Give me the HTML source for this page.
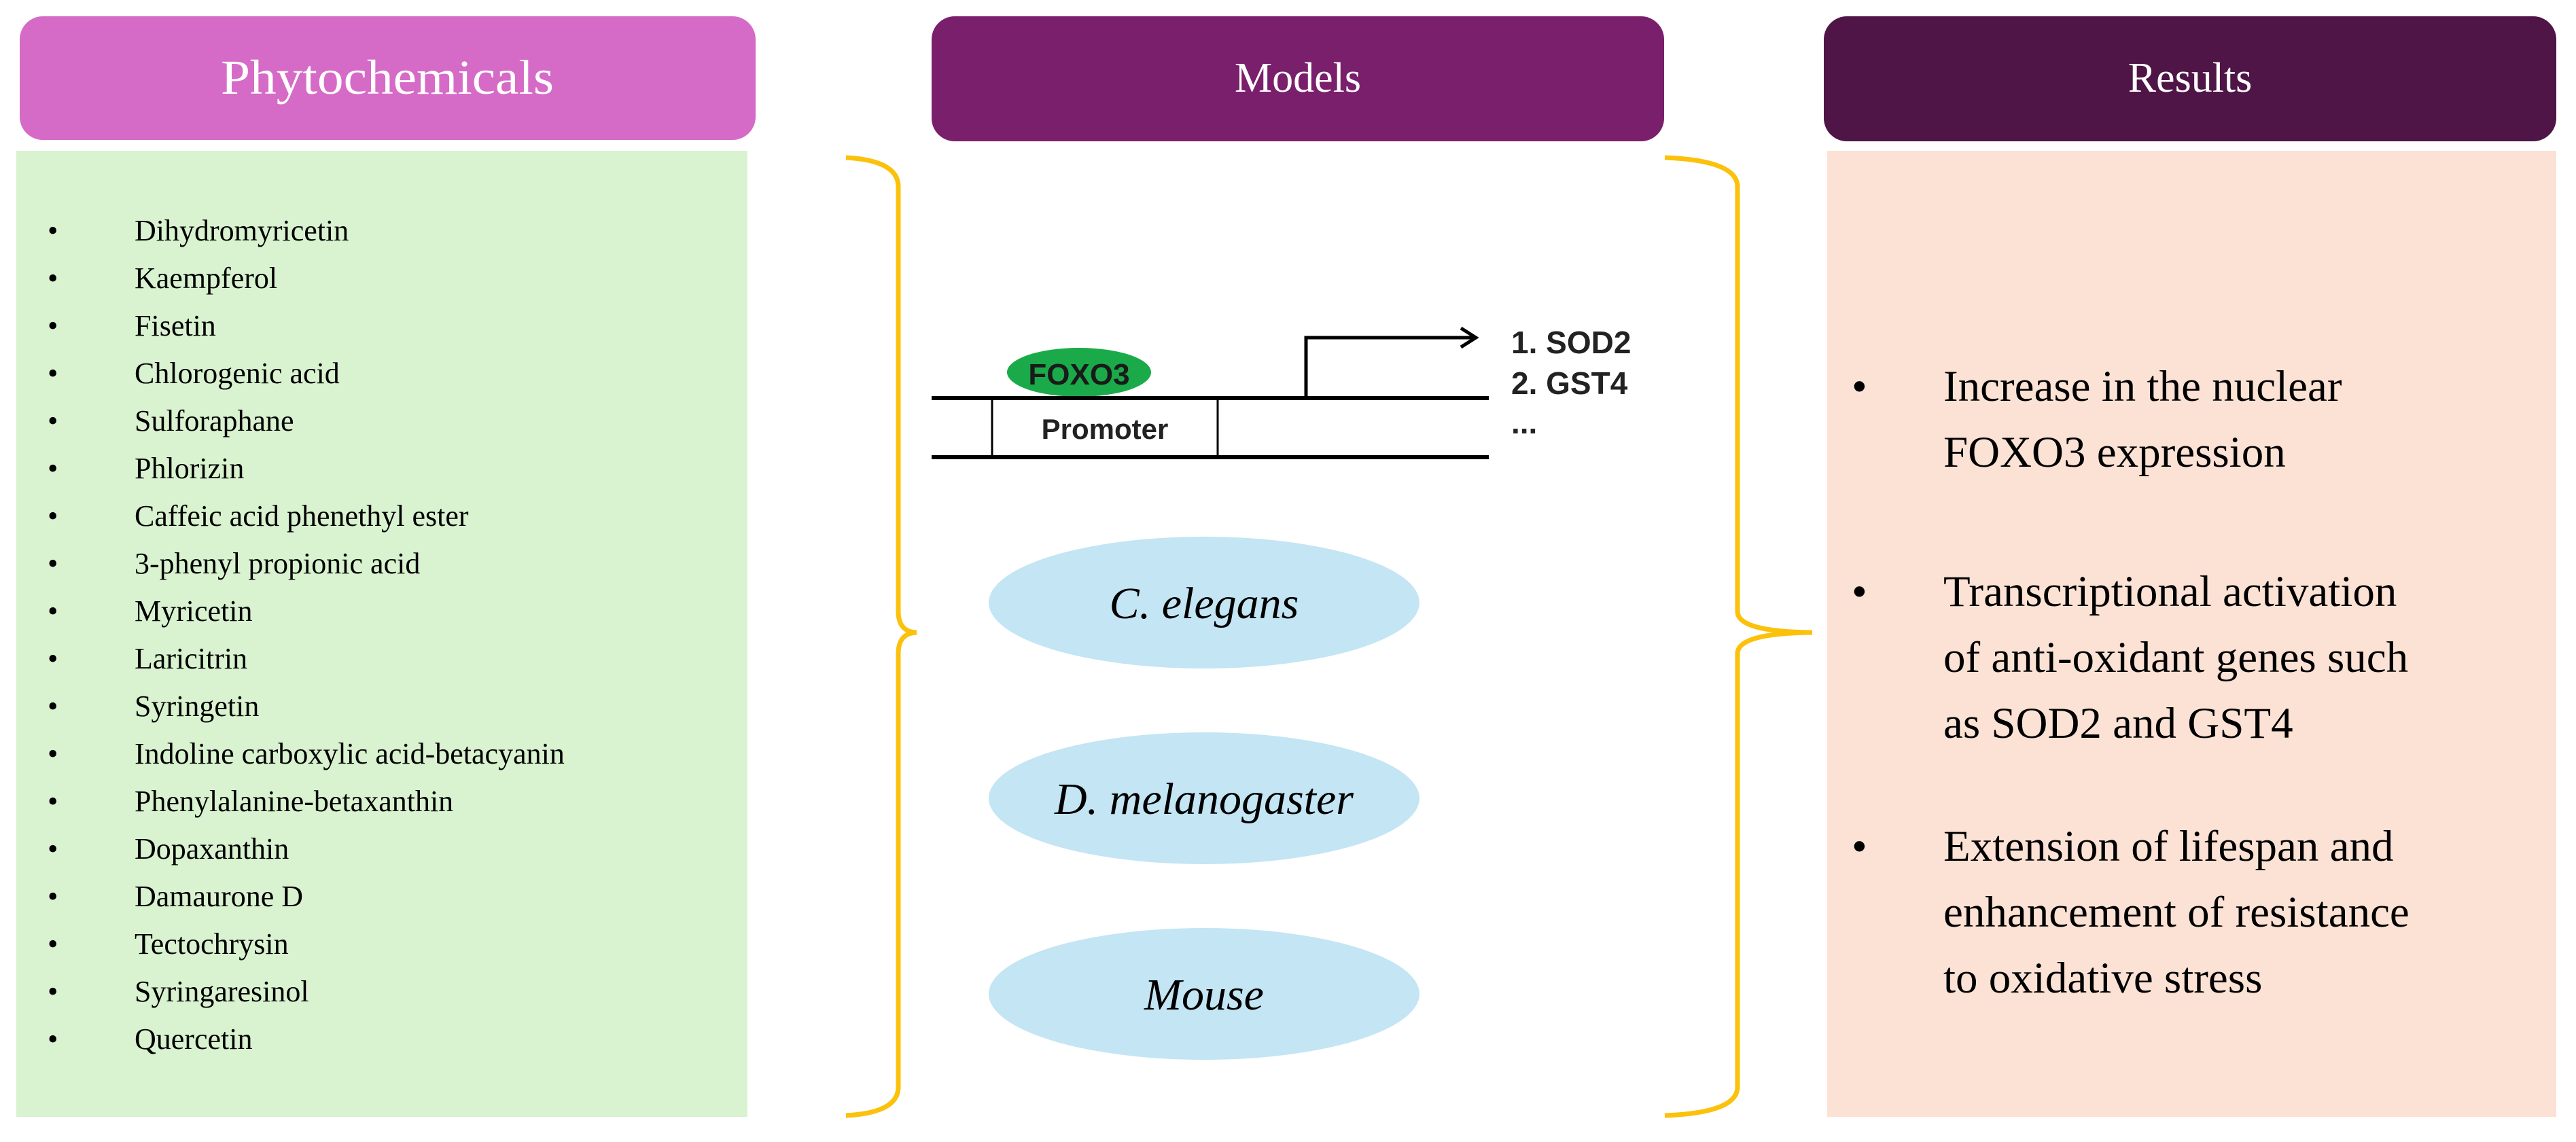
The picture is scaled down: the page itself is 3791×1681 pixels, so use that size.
<!DOCTYPE html>
<html><head><meta charset="utf-8"><style>
html,body{margin:0;padding:0;background:#fff;}
body{width:3791px;height:1681px;overflow:hidden;position:relative;}
svg{position:absolute;left:0;top:0;}
</style></head><body>
<svg width="3791" height="1681" viewBox="0 0 3791 1681" xmlns="http://www.w3.org/2000/svg">
<rect x="29" y="24" width="1083" height="182" rx="34" fill="#d56bc7"/>
<rect x="1371" y="24" width="1078" height="184" rx="34" fill="#7a1f6c"/>
<rect x="2684" y="24" width="1078" height="184" rx="34" fill="#4f1546"/>
<g font-family="Liberation Serif, serif" font-size="62" fill="#fff" text-anchor="middle">
<text x="570" y="138" font-size="72" textLength="490" lengthAdjust="spacingAndGlyphs">Phytochemicals</text>
<text x="1910" y="135">Models</text>
<text x="3223" y="135">Results</text>
</g>
<rect x="24" y="222" width="1076" height="1422" fill="#d9f2d0"/>
<rect x="2689" y="222" width="1073" height="1422" fill="#fbe2d5"/>
<g font-family="Liberation Serif, serif" font-size="44" fill="#000">
<text x="70" y="354">•</text><text x="198" y="354">Dihydromyricetin</text>
<text x="70" y="424">•</text><text x="198" y="424">Kaempferol</text>
<text x="70" y="494">•</text><text x="198" y="494">Fisetin</text>
<text x="70" y="564">•</text><text x="198" y="564">Chlorogenic acid</text>
<text x="70" y="634">•</text><text x="198" y="634">Sulforaphane</text>
<text x="70" y="704">•</text><text x="198" y="704">Phlorizin</text>
<text x="70" y="774">•</text><text x="198" y="774">Caffeic acid phenethyl  ester</text>
<text x="70" y="844">•</text><text x="198" y="844">3-phenyl propionic acid</text>
<text x="70" y="914">•</text><text x="198" y="914">Myricetin</text>
<text x="70" y="984">•</text><text x="198" y="984">Laricitrin</text>
<text x="70" y="1054">•</text><text x="198" y="1054">Syringetin</text>
<text x="70" y="1124">•</text><text x="198" y="1124">Indoline carboxylic acid-betacyanin</text>
<text x="70" y="1194">•</text><text x="198" y="1194">Phenylalanine-betaxanthin</text>
<text x="70" y="1264">•</text><text x="198" y="1264">Dopaxanthin</text>
<text x="70" y="1334">•</text><text x="198" y="1334">Damaurone D</text>
<text x="70" y="1404">•</text><text x="198" y="1404">Tectochrysin</text>
<text x="70" y="1474">•</text><text x="198" y="1474">Syringaresinol</text>
<text x="70" y="1544">•</text><text x="198" y="1544">Quercetin</text>
</g>
<g fill="none" stroke="#fbc10b" stroke-width="7">
<path d="M1245 232 Q1322 236 1322 275 L1322 900 Q1322 930 1349 931 Q1322 932 1322 962 L1322 1600 Q1322 1638 1245 1642"/>
<path d="M2450 232 Q2557 236 2557 275 L2557 900 Q2557 930 2667 931 Q2557 932 2557 962 L2557 1600 Q2557 1638 2450 1642"/>
</g>
<ellipse cx="1588" cy="548" rx="106" ry="36" fill="#1aaa4a"/>
<text x="1588" y="566" font-family="Liberation Sans, sans-serif" font-weight="bold" font-size="44" fill="#1a1a1a" text-anchor="middle">FOXO3</text>
<g stroke="#000" fill="none">
<line x1="1371" y1="586" x2="2191" y2="586" stroke-width="6"/>
<line x1="1371" y1="673" x2="2191" y2="673" stroke-width="6"/>
<line x1="1460" y1="586" x2="1460" y2="673" stroke-width="3"/>
<line x1="1792" y1="586" x2="1792" y2="673" stroke-width="3"/>
<path d="M1922 586 L1922 497 L2172 497" stroke-width="5"/>
<path d="M2150 483 L2172 497 L2150 511" stroke-width="5"/>
</g>
<text x="1626" y="646" font-family="Liberation Sans, sans-serif" font-weight="bold" font-size="42" fill="#222" text-anchor="middle">Promoter</text>
<g font-family="Liberation Sans, sans-serif" font-weight="bold" font-size="46" fill="#222">
<text x="2224" y="520">1. SOD2</text>
<text x="2224" y="580">2. GST4</text>
<text x="2224" y="638">...</text>
</g>
<g fill="#c3e5f4">
<ellipse cx="1772" cy="887" rx="317" ry="97"/>
<ellipse cx="1772" cy="1175" rx="317" ry="97"/>
<ellipse cx="1772" cy="1463" rx="317" ry="97"/>
</g>
<g font-family="Liberation Serif, serif" font-style="italic" font-size="66" fill="#000" text-anchor="middle">
<text x="1772" y="910">C. elegans</text>
<text x="1772" y="1198">D. melanogaster</text>
<text x="1772" y="1486">Mouse</text>
</g>
<g font-family="Liberation Serif, serif" font-size="65" fill="#000">
<text x="2725" y="590">•</text>
<text x="2860" y="590">Increase  in the nuclear</text>
<text x="2860" y="687">FOXO3  expression</text>
<text x="2725" y="892">•</text>
<text x="2860" y="892">Transcriptional  activation</text>
<text x="2860" y="989">of anti-oxidant  genes  such</text>
<text x="2860" y="1086">as  SOD2  and  GST4</text>
<text x="2725" y="1267">•</text>
<text x="2860" y="1267">Extension  of lifespan  and</text>
<text x="2860" y="1364">enhancement  of resistance</text>
<text x="2860" y="1461">to oxidative  stress</text>
</g>
</svg>
</body></html>
